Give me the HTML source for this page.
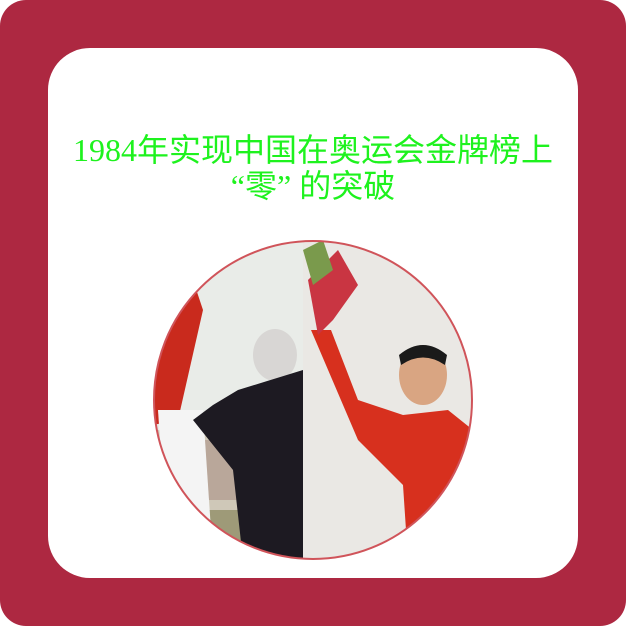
<!DOCTYPE html>
<html><head><meta charset="utf-8"><style>
html,body{margin:0;padding:0;background:#fff;}
#outer{position:relative;width:626px;height:626px;background:#ad2841;border-radius:26px;overflow:hidden;}
#card{position:absolute;left:48px;top:48px;width:530px;height:530px;background:#fff;border-radius:42px;}
#title{position:absolute;left:0;top:132px;width:626px;text-align:center;color:#1ef21e;font-family:"Liberation Serif","WenQuanYi Zen Hei",serif;font-size:32px;line-height:36px;}
#photo{position:absolute;left:153px;top:240px;}
</style></head><body>
<div id="outer">
<div id="card"></div>
<div id="title">1984年实现中国在奥运会金牌榜上<br>“零” 的突破</div>
<svg id="photo" width="320" height="320" viewBox="0 0 320 320">
<defs><clipPath id="c"><circle cx="160" cy="160" r="159"/></clipPath></defs>
<g clip-path="url(#c)">
<rect x="0" y="0" width="152" height="320" fill="#e9ece8"/>
<rect x="0" y="190" width="152" height="130" fill="#cfc8b8"/>
<rect x="40" y="200" width="50" height="60" fill="#b9a79a"/>
<rect x="0" y="270" width="152" height="50" fill="#9e9a78"/>
<path d="M0 60 L40 40 L50 70 L25 180 L0 185 Z" fill="#c92a1d"/>
<path d="M5 170 L50 170 L60 320 L15 320 Z" fill="#f4f4f4"/>
<ellipse cx="122" cy="115" rx="22" ry="26" fill="#d8d6d4"/>
<path d="M85 150 L150 130 L152 320 L90 320 L80 230 L40 180 L60 165 Z" fill="#1d1a22"/>
<rect x="150" y="0" width="170" height="320" fill="#eae8e4"/>
<path d="M158 90 L178 90 L205 160 L250 175 L295 170 L320 190 L320 320 L255 320 L250 245 L205 200 Z" fill="#d7301e"/>
<ellipse cx="270" cy="135" rx="24" ry="30" fill="#d9a582"/>
<path d="M246 115 Q270 95 294 115 L292 125 Q270 110 248 125 Z" fill="#1a1a1a"/>
<path d="M155 40 L185 10 L205 45 L180 80 L165 95 Z" fill="#c93542"/>
<path d="M150 10 L170 0 L180 30 L160 45 Z" fill="#7a9a4c"/>
</g>
<circle cx="160" cy="160" r="159" fill="none" stroke="#d0545a" stroke-width="2"/>
</svg>
</div>
</body></html>
